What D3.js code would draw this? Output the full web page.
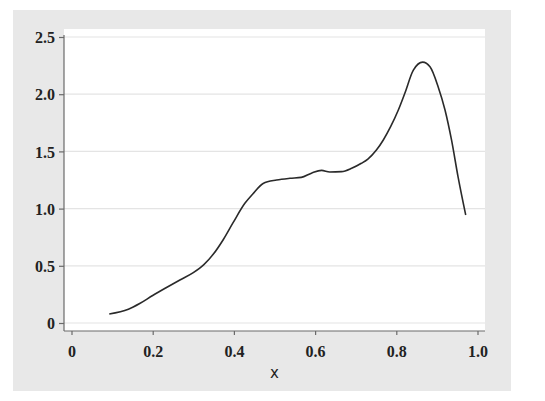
<!DOCTYPE html>
<html><head><meta charset="utf-8">
<script src="https://cdn.jsdelivr.net/npm/d3@7"></script>
<style>body{margin:0;background:#fff}svg{display:block}</style>
</head><body><svg id="c" width="545" height="401"></svg>
<script>
const xs = [0.093,0.14,0.168,0.2,0.234,0.267,0.30,0.326,0.349,0.374,0.398,0.427,0.447,0.472,0.505,0.538,0.566,0.591,0.616,0.636,0.665,0.69,0.714,0.73,0.751,0.768,0.786,0.805,0.821,0.842,0.865,0.883,0.903,0.92,0.936,0.952,0.971];
const ys = [0.079,0.12,0.17,0.24,0.31,0.376,0.44,0.51,0.60,0.73,0.877,1.046,1.13,1.22,1.25,1.265,1.273,1.31,1.334,1.32,1.323,1.352,1.396,1.433,1.512,1.6,1.716,1.862,2.008,2.21,2.28,2.24,2.066,1.862,1.6,1.28,0.944];
const xTicks = [0,0.2,0.4,0.6,0.8,1.0];
const xTickLabels = ["0","0.2","0.4","0.6","0.8","1.0"];
const yTicks = [0,0.5,1.0,1.5,2.0,2.5];
const yTickLabels = ["0","0.5","1.0","1.5","2.0","2.5"];
const xTitle = "x";

const svg = d3.select("#c");
svg.append("rect").attr("x",13).attr("y",10).attr("width",498).attr("height",381).attr("fill","#e8e8e8");
const L=64,R=485,T=29,B=331;
svg.append("rect").attr("x",L).attr("y",T).attr("width",R-L).attr("height",B-T).attr("fill","#fff");
const x = d3.scaleLinear().domain([0,1]).range([71.5,477.5]);
const y = d3.scaleLinear().domain([0,2.5]).range([323,37]);
const font = "'Liberation Serif', 'Times New Roman', serif";

svg.append("g").selectAll("line").data(yTicks).join("line")
  .attr("x1",L).attr("x2",R).attr("y1",d=>y(d)).attr("y2",d=>y(d))
  .attr("stroke","#e4e4e4").attr("stroke-width",1.2);

const yAx = svg.append("g").attr("transform",`translate(${L},0)`)
  .call(d3.axisLeft(y).tickValues(yTicks).tickFormat((d,i)=>yTickLabels[i]).tickSize(5).tickPadding(4));
yAx.select(".domain").attr("d",`M0,35V${B}`);
const xAx = svg.append("g").attr("transform",`translate(0,${B})`)
  .call(d3.axisBottom(x).tickValues(xTicks).tickFormat((d,i)=>xTickLabels[i]).tickSize(4).tickPadding(11));
xAx.select(".domain").attr("d",`M${L},0H${R}`);
[yAx,xAx].forEach(g=>{
  g.selectAll(".domain,line").attr("stroke","#6a6a6a").attr("stroke-width",1.2);
  g.selectAll("text").attr("font-family",font).attr("font-weight","bold").attr("font-size",16).attr("fill","#222");
});
yAx.selectAll("text").attr("dy","0.35em");

svg.append("text").attr("x",(x(0)+x(1))/2).attr("y",378).attr("text-anchor","middle")
  .attr("font-family","'DejaVu Sans', sans-serif").attr("font-size",15).attr("fill","#222").text(xTitle);

const data = xs.map((v,i)=>[v,ys[i]]);
svg.append("path").datum(data).attr("fill","none").attr("stroke","#2a2a2a").attr("stroke-width",1.6)
  .attr("d",d3.line().x(d=>x(d[0])).y(d=>y(d[1])).curve(d3.curveMonotoneX));
</script></body></html>
